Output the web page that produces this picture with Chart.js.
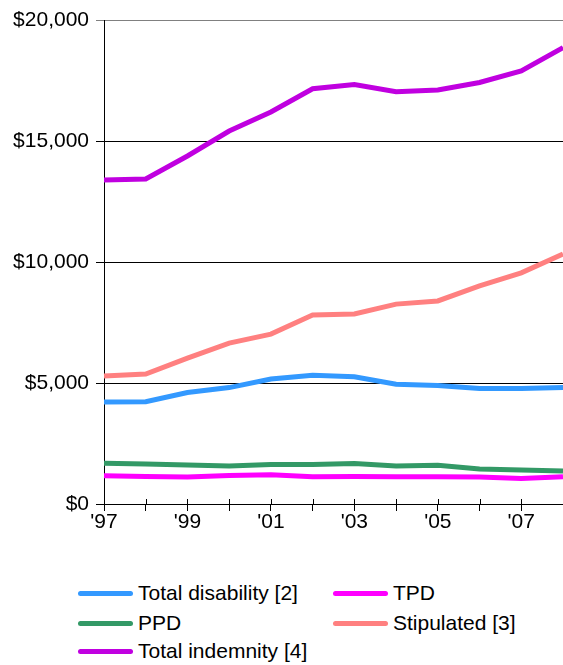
<!DOCTYPE html>
<html>
<head>
<meta charset="utf-8">
<script src="https://cdn.jsdelivr.net/npm/chart.js"></script>
<style>
  html, body { margin: 0; padding: 0; background: #fff; }
  #wrap { position: relative; width: 563px; height: 545px; }
  #legend { position: absolute; left: 0; top: 581px; width: 563px; font: 21px "Liberation Sans", Arial, sans-serif; color: #000; }
  .item { position: absolute; display: flex; align-items: center; white-space: nowrap; }
  .swatch { width: 55px; height: 5px; border-radius: 3px; margin-right: 5px; }
</style>
</head>
<body>
<div id="wrap"><canvas id="chart"></canvas></div>
<div id="legend"></div>
<script>
const years = ["'97", "'98", "'99", "'00", "'01", "'02", "'03", "'04", "'05", "'06", "'07", "'08"];

const totalDisability = [4215, 4230, 4610, 4810, 5165, 5320, 5260, 4950, 4900, 4770, 4770, 4810];
const tpd = [1170, 1140, 1115, 1180, 1210, 1130, 1140, 1130, 1130, 1115, 1050, 1130];
const ppd = [1680, 1650, 1610, 1570, 1630, 1630, 1670, 1570, 1600, 1450, 1400, 1360];
const stipulated = [5290, 5370, 6030, 6650, 7020, 7810, 7850, 8260, 8390, 9010, 9550, 10330];
const totalIndemnity = [13390, 13430, 14380, 15410, 16200, 17160, 17330, 17040, 17110, 17420, 17900, 18860];

const yTicks = [0, 5000, 10000, 15000, 20000];

const series = [
  { label: 'Total disability [2]', data: totalDisability, color: '#3399ff' },
  { label: 'TPD', data: tpd, color: '#ff00ff' },
  { label: 'PPD', data: ppd, color: '#339966' },
  { label: 'Stipulated [3]', data: stipulated, color: '#ff8080' },
  { label: 'Total indemnity [4]', data: totalIndemnity, color: '#c000e0' }
];

const font = { family: '"Liberation Sans", Arial, sans-serif', size: 21 };

// little tick marks on the x axis reach a bit above the axis line too
const crossTicks = {
  id: 'crossTicks',
  afterDraw(chart) {
    const x = chart.scales.x, ctx = chart.ctx, b = chart.chartArea.bottom;
    ctx.save();
    ctx.strokeStyle = '#000';
    ctx.lineWidth = 1;
    years.forEach((_, i) => {
      const px = Math.round(x.getPixelForValue(i)) + 0.5;
      ctx.beginPath();
      ctx.moveTo(px, b - 5);
      ctx.lineTo(px, b);
      ctx.stroke();
    });
    ctx.restore();
  }
};

new Chart(document.getElementById('chart'), {
  type: 'line',
  data: {
    labels: years,
    datasets: series.map(s => ({
      label: s.label,
      data: s.data,
      borderColor: s.color,
      backgroundColor: s.color,
      borderWidth: 5,
      pointRadius: 0,
      tension: 0,
      fill: false
    }))
  },
  options: {
    responsive: true,
    maintainAspectRatio: false,
    animation: false,
    layout: { padding: { top: 20, right: -3, left: 0, bottom: 0 } },
    plugins: { legend: { display: false }, tooltip: { enabled: false } },
    scales: {
      x: {
        offset: false,
        border: { color: '#000', width: 1 },
        grid: { drawOnChartArea: false, drawTicks: true, tickLength: 7, color: '#000' },
        ticks: {
          autoSkip: false,
          maxRotation: 0,
          padding: -1,
          color: '#000',
          font: font,
          callback: (v, i) => (i % 2 === 0 ? years[i] : '')
        },
        afterFit: s => { s.height = 41; }
      },
      y: {
        min: 0,
        max: 20000,
        afterBuildTicks: s => { s.ticks = yTicks.map(v => ({ value: v })); },
        border: { color: '#000', width: 1 },
        grid: {
          tickLength: 8,
          color: c => (c.tick && c.tick.value === 20000 ? '#808080' : '#000')
        },
        ticks: {
          padding: 7,
          color: '#000',
          font: font,
          callback: v => '$' + v.toLocaleString('en-US')
        },
        afterFit: s => { s.width = 104; }
      }
    }
  },
  plugins: [crossTicks]
});

// legend in two columns, like the original
const legendPos = [
  { left: 78, top: 0 }, { left: 333, top: 0 },
  { left: 78, top: 30 }, { left: 333, top: 30 },
  { left: 78, top: 58 }
];
const legend = document.getElementById('legend');
series.forEach((s, i) => {
  const el = document.createElement('div');
  el.className = 'item';
  el.style.left = legendPos[i].left + 'px';
  el.style.top = legendPos[i].top + 'px';
  el.innerHTML = '<span class="swatch" style="background:' + s.color + '"></span><span>' + s.label + '</span>';
  legend.appendChild(el);
});
</script>
</body>
</html>
